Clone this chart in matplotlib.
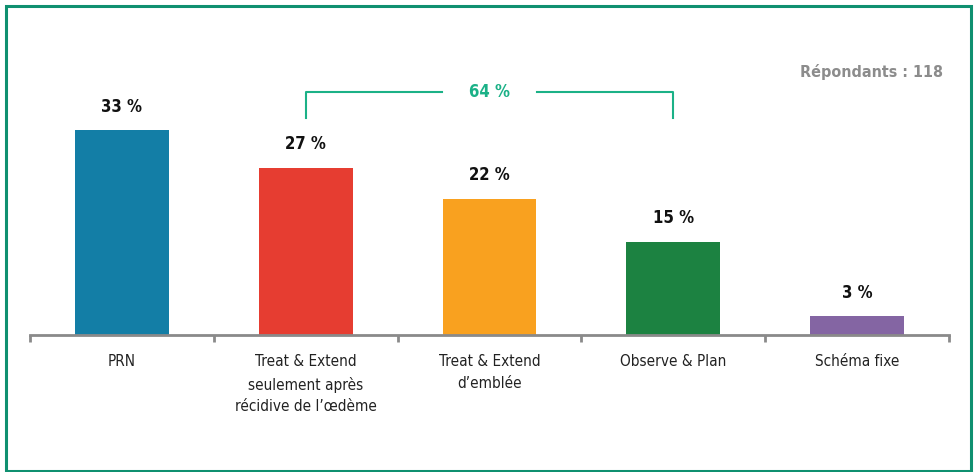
import matplotlib
matplotlib.use("Agg")
import matplotlib.pyplot as plt
from matplotlib.patches import Rectangle

plt.rcParams['font.family'] = ['DejaVu Sans']
plt.rcParams['font.stretch'] = 'condensed'

categories = ["PRN", "Treat & Extend\nseulement après\nrécidive de l\u2019œdème",
              "Treat & Extend\nd\u2019emblée", "Observe & Plan", "Schéma fixe"]
values = [33, 27, 22, 15, 3]
colors = ["#137ea6", "#e63d31", "#f9a11f", "#1c8241", "#8465a3"]
group_idx = [1, 2, 3]
group_label = "64 %"
respondents = "Répondants : 118"

W, H = 978, 472
fig = plt.figure(figsize=(W/100, H/100), dpi=100)
fig.add_artist(Rectangle((5.5/W, 1.5/H), (W-12)/W, (H-7)/H, transform=fig.transFigure,
                         fill=False, edgecolor="#0f9070", lw=2.2))

ax = fig.add_axes([30/W, (H-335)/H, 919/W, 310/H])
x = list(range(len(values)))
ax.bar(x, values, width=0.51, color=colors, zorder=2)
ax.set_xlim(-0.5, len(values)-0.5)
ax.set_ylim(0, 50)
for s in ["top", "left", "right"]:
    ax.spines[s].set_visible(False)
ax.spines["bottom"].set_color("#8a8a8a")
ax.spines["bottom"].set_linewidth(2)
ax.set_yticks([])
ax.set_xticks(x)
ax.set_xticklabels(categories, fontsize=11, linespacing=1.55, color="#222222")
ax.tick_params(axis="x", which="major", length=0, pad=14)
ax.set_xticks([i-0.5 for i in range(len(values)+1)], minor=True)
ax.tick_params(axis="x", which="minor", length=5, width=2, color="#8a8a8a", direction="out")

for xi, v in zip(x, values):
    ax.annotate(f"{v} %", (xi, v), xytext=(0, 17), textcoords="offset points",
                ha="center", va="center", fontsize=12, fontweight="bold", color="#111111")

gc = "#1bb187"
x0, x1 = group_idx[0], group_idx[-1]
top = 39.2
low = 35.0
mid = (x0 + x1) / 2
gap = 0.26
ax.plot([x0, x0, mid-gap], [low, top, top], color=gc, lw=1.5, clip_on=False)
ax.plot([mid+gap, x1, x1], [top, top, low], color=gc, lw=1.5, clip_on=False)
ax.text(mid, top, group_label, ha="center", va="center", fontsize=12, fontweight="bold", color=gc)

fig.text(943/W, 1-72/H, respondents, ha="right", va="center", fontsize=11.5,
         fontweight="bold", color="#8c8c8c")

fig.savefig("out.png", dpi=100)
